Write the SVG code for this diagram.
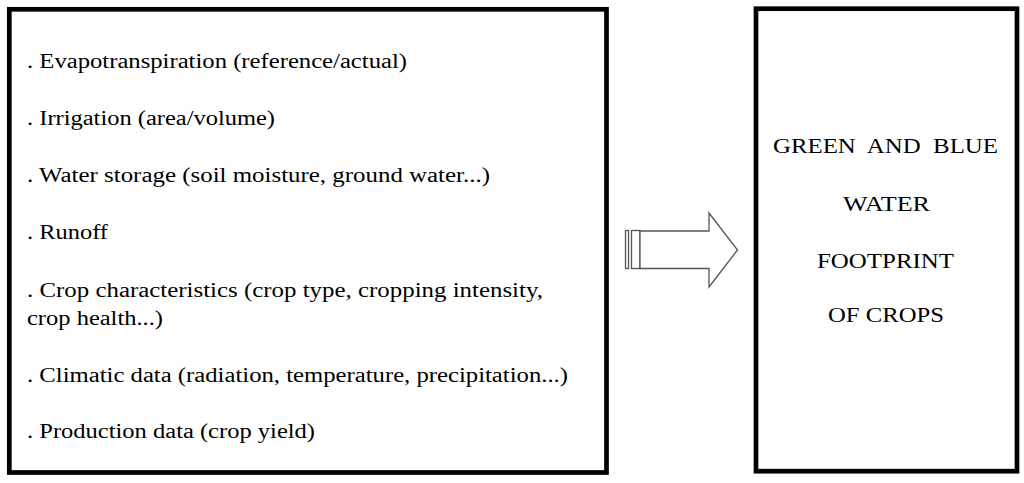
<svg xmlns="http://www.w3.org/2000/svg" width="1024" height="483" viewBox="0 0 1024 483">
<style>
.box{fill:#fff;stroke:#000;stroke-width:4.7}
.t{font-family:'Liberation Serif',Tinos,'Times New Roman',Times,'Noto Serif','Nimbus Roman','FreeSerif','DejaVu Serif',serif;font-size:20px;fill:#000}
.r{font-size:21px;text-anchor:middle}
.arr{fill:#fff;stroke:#555;stroke-width:1.3}
</style>
<rect width="1024" height="483" fill="#fff"/>
<g id="inputs">
<rect class="box" x="9.3" y="9.3" width="597.2" height="463.2"/>
<text class="t" x="27" y="68" textLength="380" lengthAdjust="spacingAndGlyphs">. Evapotranspiration (reference/actual)</text>
<text class="t" x="27" y="125" textLength="248" lengthAdjust="spacingAndGlyphs">. Irrigation (area/volume)</text>
<text class="t" x="27" y="182" textLength="463" lengthAdjust="spacingAndGlyphs">. Water storage (soil moisture, ground water...)</text>
<text class="t" x="27" y="239" textLength="81" lengthAdjust="spacingAndGlyphs">. Runoff</text>
<text class="t" x="27" y="297" textLength="516" lengthAdjust="spacingAndGlyphs">. Crop characteristics (crop type, cropping intensity,</text>
<text class="t" x="27" y="325" textLength="136" lengthAdjust="spacingAndGlyphs">crop health...)</text>
<text class="t" x="27" y="382" textLength="541" lengthAdjust="spacingAndGlyphs">. Climatic data (radiation, temperature, precipitation...)</text>
<text class="t" x="27" y="438" textLength="288" lengthAdjust="spacingAndGlyphs">. Production data (crop yield)</text>
</g>
<g id="connectors">
<rect class="arr" x="625.5" y="230.5" width="3" height="38"/>
<rect class="arr" x="631.5" y="230.5" width="8.5" height="38"/>
<path class="arr" d="M640 231 H709 V213 L737.5 250 L709 287 V268.5 H640 Z"/>
</g>
<g id="output">
<rect class="box" x="756" y="8.7" width="261" height="462.5"/>
<text class="t r" x="885.5" y="153" textLength="225" lengthAdjust="spacingAndGlyphs" xml:space="preserve">GREEN  AND  BLUE</text>
<text class="t r" x="886.5" y="211" textLength="87" lengthAdjust="spacingAndGlyphs">WATER</text>
<text class="t r" x="885.5" y="268" textLength="137" lengthAdjust="spacingAndGlyphs">FOOTPRINT</text>
<text class="t r" x="886" y="322" textLength="116" lengthAdjust="spacingAndGlyphs">OF CROPS</text>
</g>
</svg>
